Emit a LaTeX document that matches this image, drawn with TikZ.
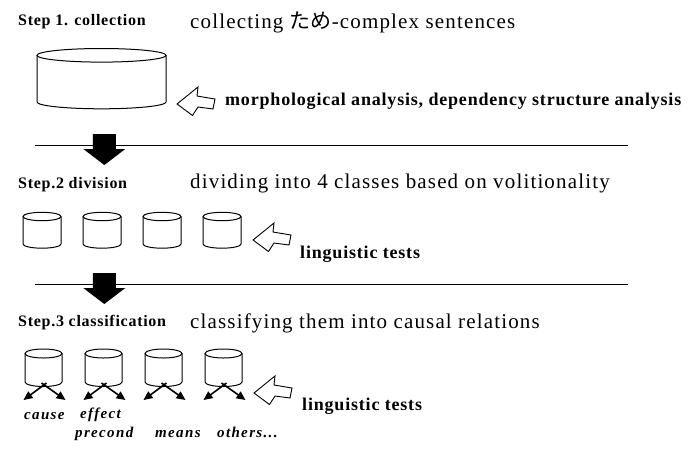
\documentclass[tikz,border=0pt]{standalone}
\usepackage{fontspec}
\setmainfont{Liberation Serif}
\newfontfamily\jafont{Noto Sans CJK JP}
\usetikzlibrary{arrows.meta}

% cylinder ("drum") outline: centre x, top-ellipse y, bottom y, radii
\newcommand\drawdrum[5]{%
  \draw[drum] (#1-#4,#2) -- (#1-#4,#3)
    arc[start angle=180,end angle=0,x radius=#4,y radius=#5] -- (#1+#4,#2);
  \draw[drum] (#1,#2) ellipse[x radius=#4,y radius=#5];
}

\tikzset{
  steptitle/.style={anchor=base west,inner sep=0pt,
    font=\fontsize{16}{19}\selectfont\bfseries\addfontfeatures{LetterSpace=4.5}},
  headline/.style={anchor=base west,inner sep=0pt,
    font=\fontsize{21}{25}\selectfont\addfontfeatures{LetterSpace=5.5}},
  toollabel/.style={anchor=base west,inner sep=0pt,
    font=\fontsize{18}{21}\selectfont\bfseries\addfontfeatures{LetterSpace=4.5}},
  relation/.style={anchor=base west,inner sep=0pt,
    font=\fontsize{15}{17}\selectfont\bfseries\itshape\addfontfeatures{LetterSpace=9}},
  drum/.style={line width=1pt,black},
  rule/.style={line width=1pt,black},
  split/.style={line width=1.6pt,-{Triangle[length=9pt,width=8pt]}},
  hollowarrow/.pic={
    \draw[line width=0.9pt,fill=white,line join=miter]
      (0,0) -- (21,-17) -- (20,-8) -- (38,-5) -- (36,5) -- (21,3) -- (15.5,11.5) -- cycle;
  },
  blockarrow/.pic={
    \fill[black] (-11.5,-11.5) -- (11.5,-11.5) -- (11.5,3.5) -- (21,3.5)
      -- (0,19.5) -- (-21,3.5) -- (-11.5,3.5) -- cycle;
  },
}

\begin{document}
\begin{tikzpicture}[x=1pt,y=-1pt]
\useasboundingbox[fill=white] (0,0) rectangle (695,453);

% separators between the steps
\coordinate (r1a) at (35,145.5);  \coordinate (r1b) at (628,145.5);
\coordinate (r2a) at (35,284.5);  \coordinate (r2b) at (628,284.5);
\draw[rule] (r1a) -- (r1b);
\draw[rule] (r2a) -- (r2b);
\pic at (104.3,145.5) {blockarrow};
\pic at (104.3,284.5) {blockarrow};

% Step 1
\node[steptitle] (s1) at (18,25) {Step 1. collection};
\node[headline] (h1) at (190,28.3) {collecting {\jafont ため}-complex sentences};
\drawdrum{101.5}{55.3}{102}{64.5}{6.8}
\pic at (177,104) {hollowarrow};
\node[toollabel] (t1) at (225,105) {morphological analysis, dependency structure analysis};

% Step 2
\node[steptitle] (s2) at (18,188) {Step.2 division};
\node[headline] (h2) at (190,188.3) {dividing into 4 classes based on volitionality};
\foreach \i in {0,1,2,3}{
  \drawdrum{42+60*\i}{216.5}{244}{19}{4.2}
}
\pic at (253,240) {hollowarrow};
\node[toollabel] (t2) at (300,258) {linguistic tests};

% Step 3
\node[steptitle] (s3) at (18,326.7) {Step.3 classification};
\node[headline] (h3) at (190,328.3) {classifying them into causal relations};
\foreach \i in {1,2,3,4}{
  \pgfmathsetmacro\cx{43.5+60*(\i-1)}
  \drawdrum{\cx}{353.5}{382}{18.5}{4.5}
  \coordinate (d\i-l) at (\cx+3,383);
  \coordinate (d\i-r) at (\cx-2,383);
  \coordinate (d\i-lt) at (\cx-20,400);
  \coordinate (d\i-rt) at (\cx+22,400);
  \draw[split] (d\i-l) -- (d\i-lt);
  \draw[split] (d\i-r) -- (d\i-rt);
}
\pic at (254,393) {hollowarrow};
\node[toollabel] (t3) at (302,410) {linguistic tests};

\node[relation] (cause) at (24,419) {cause};
\node[relation] (effect) at (80,418) {effect};
\node[relation] (precond) at (75,437) {precond};
\node[relation] (means) at (155,437) {means};
\node[relation] (others) at (217,437) {others...};
\end{tikzpicture}
\end{document}
